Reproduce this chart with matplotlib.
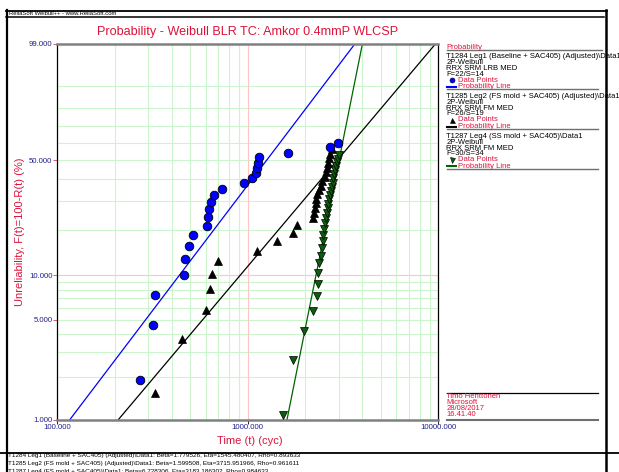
import numpy as np
import matplotlib
matplotlib.use("Agg")
import matplotlib.pyplot as plt
from matplotlib.lines import Line2D

plt.rcParams['font.family'] = ['Liberation Sans', 'DejaVu Sans']

W, H = 619, 472

crimson = "#dc143c"
navy = "#20208c"
blue = "#0000ff"
green = "#006400"

# Leg1 (Baseline + SAC405): time (cyc), unreliability (%)
leg1_t = [272, 317, 326, 463, 468, 491, 514, 611, 616, 626, 641, 665, 735,
          955, 1056, 1108, 1122, 1131, 1145, 1632, 2701, 2965]
leg1_f = [1.90, 4.61, 7.38, 10.08, 12.88, 15.61, 18.37, 21.14, 23.94, 26.68,
          29.50, 32.29, 34.95, 37.77, 40.38, 43.10, 45.60, 48.51, 51.56,
          54.23, 57.41, 59.79]

# Leg2 (FS mold + SAC405)
leg2_t = [326, 450, 603, 636, 651, 698, 1118, 1423, 1721, 1806, 2207, 2234,
          2245, 2272, 2289, 2317, 2356, 2414, 2461, 2533, 2573, 2604, 2636,
          2668, 2710, 2756]
leg2_f = [1.53, 3.67, 5.82, 8.07, 10.24, 12.50, 14.61, 16.89, 19.09, 21.26,
          23.51, 25.33, 27.16, 28.98, 30.73, 32.72, 34.63, 36.62, 39.04,
          41.04, 43.31, 45.76, 48.51, 50.99, 53.64, 56.58]

# Leg4 (SS mold + SAC405)
leg4_t = [1525, 1733, 1972, 2191, 2300, 2328, 2345, 2373, 2414, 2443, 2473,
          2491, 2521, 2542, 2573, 2595, 2627, 2646, 2678, 2701, 2734, 2756,
          2790, 2810, 2845, 2879, 2914, 2939, 2975, 3001]
leg4_f = [1.08, 2.62, 4.19, 5.73, 7.30, 8.76, 10.44, 12.07, 13.48, 15.15,
          16.89, 18.45, 20.15, 21.88, 23.51, 25.23, 27.05, 28.70, 30.60,
          32.42, 34.18, 36.15, 38.06, 40.23, 42.42, 44.52, 46.69, 48.73,
          50.87, 52.89]

# fitted parameters (beta, eta)
fit_beta = [1.779526, 1.599508, 6.728306]
fit_eta = [1545.480407, 3715.951966, 3183.186302]

y_ticks = [1, 5, 10, 50, 99]
x_ticks = [100, 1000, 10000]
y_grid = [2, 3, 4, 5, 6, 7, 8, 9, 20, 30, 40, 50, 60, 70, 80, 90]
x_grid = [200, 300, 400, 500, 600, 700, 800, 900,
          2000, 3000, 4000, 5000, 6000, 7000, 8000, 9000]

legend_groups = [
    ("T1284 Leg1 (Baseline + SAC405) (Adjusted)\\Data1", "2P-Weibull",
     "RRX SRM LRB MED", "F=22/S=14"),
    ("T1285 Leg2 (FS mold + SAC405) (Adjusted)\\Data1", "2P-Weibull",
     "RRX SRM FM MED", "F=26/S=19"),
    ("T1287 Leg4 (SS mold + SAC405)\\Data1", "2P-Weibull",
     "RRX SRM FM MED", "F=30/S=34"),
]
signature = ["Timo Henttonen", "Microsoft", "28/08/2017", "16.41.40"]
footer = [
    "T1284 Leg1 (Baseline + SAC405) (Adjusted)\\Data1: Beta=1.779526, Eta=1545.480407, Rho=0.893633",
    "T1285 Leg2 (FS mold + SAC405) (Adjusted)\\Data1: Beta=1.599508, Eta=3715.951966, Rho=0.961611",
    "T1287 Leg4 (FS mold + SAC405)\\Data1: Beta=6.728306, Eta=3183.186302, Rho=0.984633",
]


def fwd(f):
    f = np.clip(np.asarray(f, dtype=float), 1e-6, 99.99999)
    return np.log(-np.log(1 - f / 100.0))


def inv(v):
    return 100.0 * (1 - np.exp(-np.exp(v)))


def fxy(x, y):
    return x / W, 1 - y / H


def hline(fig, x0, x1, y, color="k", lw=1.0):
    (a, b), (c, _) = fxy(x0, y), fxy(x1, y)
    fig.add_artist(Line2D([a, c], [b, b], color=color, lw=lw))


def vline(fig, x, y0, y1, color="k", lw=1.0):
    (a, b), (_, d) = fxy(x, y0), fxy(x, y1)
    fig.add_artist(Line2D([a, a], [b, d], color=color, lw=lw))


def ftext(fig, x, y, s, **kw):
    fx, fy = fxy(x, y)
    fig.text(fx, fy, s, **kw)


fig = plt.figure(figsize=(W / 100, H / 100), dpi=100)
ax = fig.add_axes([57.3 / W, 1 - 419.5 / H, 381 / W, 375.5 / H])
ax.set_xscale("log")
ax.set_yscale("function", functions=(fwd, inv))
ax.set_xlim(100, 10000)
ax.set_ylim(1, 99)

for g in y_grid:
    ax.axhline(g, color="#cdf5cd", lw=0.8, zorder=0)
ax.axhline(10, color="#ffc4c4", lw=0.8, zorder=0)
for g in x_grid:
    ax.axvline(g, color="#cdf5cd", lw=0.8, zorder=0)
ax.axvline(1000, color="#ffc4c4", lw=0.8, zorder=0)

# probability lines
line_colors = [blue, "black", green]
f_ends = np.array([1.0, 99.0])
for b, e, c in zip(fit_beta, fit_eta, line_colors):
    t_ends = e * (-np.log(1 - f_ends / 100.0)) ** (1.0 / b)
    ax.plot(t_ends, f_ends, color=c, lw=0.9, zorder=2)

ax.plot(leg1_t, leg1_f, "o", ms=6.2, mfc=blue, mec="black", mew=0.6, zorder=4)
ax.plot(leg2_t, leg2_f, "^", ms=6.0, mfc="black", mec="black", mew=0.5, zorder=3)
ax.plot(leg4_t, leg4_f, "v", ms=6.0, mfc="#0b5e0b", mec="black", mew=0.5, zorder=3)

ax.xaxis.set_major_locator(matplotlib.ticker.FixedLocator(x_ticks))
ax.xaxis.set_minor_locator(matplotlib.ticker.NullLocator())
ax.xaxis.set_major_formatter(matplotlib.ticker.FuncFormatter(lambda v, p: "%.3f" % v))
ax.yaxis.set_major_locator(matplotlib.ticker.FixedLocator(y_ticks))
ax.yaxis.set_minor_locator(matplotlib.ticker.NullLocator())
ax.yaxis.set_major_formatter(matplotlib.ticker.FuncFormatter(lambda v, p: "%.3f" % v))
ax.tick_params(axis="both", labelsize=5.6, labelcolor=navy, length=3,
               width=0.6, pad=0.5)
ax.tick_params(axis="y", color="#d04060")

for s in ["top", "bottom"]:
    ax.spines[s].set_color("#808080")
    ax.spines[s].set_linewidth(1.8)
for s in ["left", "right"]:
    ax.spines[s].set_color("black")
    ax.spines[s].set_linewidth(0.9)

fig.text(247.8 / W, 1 - 32 / H, "Probability - Weibull BLR TC: Amkor 0.4mmP WLCSP",
         color=crimson, fontsize=9.1, ha="center", va="center")
fig.text(20 / W, 1 - 232 / H, "Unreliability, F(t)=100-R(t) (%)", color=crimson,
         fontsize=8, rotation=90, ha="center", va="center")
fig.text(250 / W, 1 - 441 / H, "Time (t) (cyc)", color=crimson, fontsize=8,
         ha="center", va="center")

# frame
hline(fig, 6, 606.5, 10.5, lw=1.3)
hline(fig, 6, 604, 17, lw=1.1)
vline(fig, 7, 10, 472, lw=1.6)
vline(fig, 605.5, 9.8, 472, lw=1.8)
hline(fig, 0, 619, 452.5, lw=1.3)
ftext(fig, 9, 13.8, "ReliaSoft Weibull++ - www.ReliaSoft.com", fontsize=4.2,
      va="center", ha="left")

# legend panel
lx = 446.5
fs = 5.5
sep_col = "#707070"
ftext(fig, lx, 47.3, "Probability", color=crimson, fontsize=fs, va="center")
hline(fig, lx, 601.5, 50, color=sep_col, lw=1.0)
markers = ["o", "^", "v"]
mfcs = [blue, "black", "#0b5e0b"]
offsets = [0, 5.7, 11.7, 17.4]
for i, grp in enumerate(legend_groups):
    y0 = 56.7 + 39.8 * i
    for s, off in zip(grp, offsets):
        ftext(fig, lx, y0 + off, s, color="black", fontsize=fs, va="center")
    mx, my = fxy(451.7, y0 + 23.3)
    fig.add_artist(Line2D([mx], [my], marker=markers[i], ms=3.6, mfc=mfcs[i],
                          mec="black", mew=0.4, ls="none"))
    ftext(fig, 458.3, y0 + 23.3, "Data Points", color=crimson, fontsize=fs,
          va="center")
    hline(fig, lx, 456, y0 + 30, color=line_colors[i], lw=1.5)
    ftext(fig, 458.3, y0 + 30, "Probability Line", color=crimson, fontsize=fs,
          va="center")
    hline(fig, lx, 598, y0 + 32.5, color=sep_col, lw=1.0)

hline(fig, lx, 598, 393.3, color="black", lw=0.9)
for i, s in enumerate(signature):
    ftext(fig, lx, 396.8 + 6 * i, s, color=crimson, fontsize=fs, va="center")
hline(fig, lx, 598, 420, color=sep_col, lw=1.5)

for i, s in enumerate(footer):
    ftext(fig, 7.5, 455.8 + 8 * i, s, fontsize=4.55, va="center", ha="left")

fig.savefig("out.png", dpi=100)
